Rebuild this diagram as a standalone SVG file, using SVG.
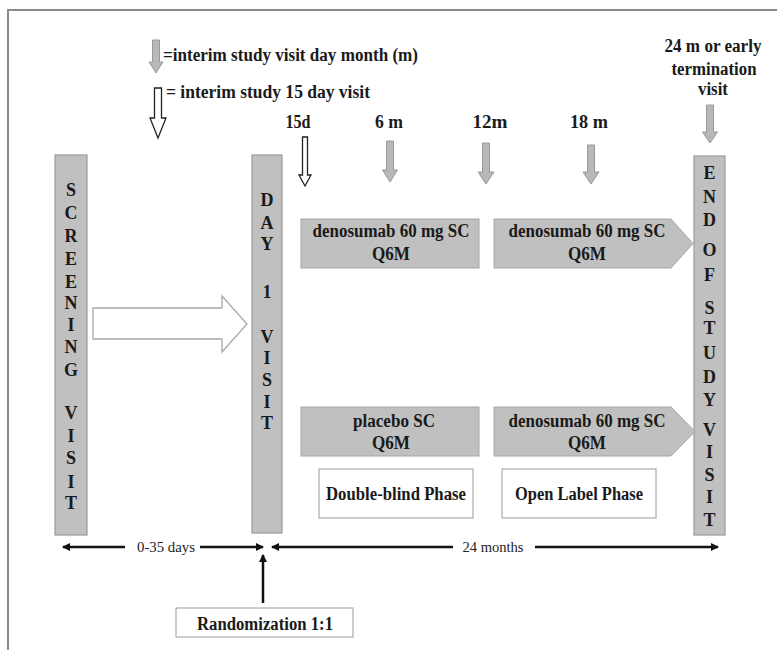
<svg xmlns="http://www.w3.org/2000/svg" width="777" height="650" viewBox="0 0 777 650">
<defs>
<style>
.t{font-family:"Liberation Serif","Times New Roman",serif;font-weight:bold;font-size:18px;fill:#1a1a1a}
.r{font-family:"Liberation Serif","Times New Roman",serif;font-size:15px;fill:#222}
.bar{fill:#c0c0c0;stroke:#9a9a9a;stroke-width:1.2}
.box{fill:#c0c0c0;stroke:#a6a6a6;stroke-width:1}
.wbox{fill:#ffffff;stroke:#9a9a9a;stroke-width:1}
.garr{fill:#b8b8b8;stroke:#999;stroke-width:1}
.harr{fill:#ffffff;stroke:#222;stroke-width:1.3}
.dim{stroke:#111;stroke-width:2.5;fill:none}
.c{text-anchor:middle}
</style>
<marker id="ah" markerWidth="8" markerHeight="8" refX="7" refY="4" orient="auto" markerUnits="userSpaceOnUse">
<path d="M0,0 L8,4 L0,8 Z" fill="#111"/>
</marker>
</defs>
<rect width="777" height="650" fill="#ffffff"/>
<rect x="8" y="10" width="800" height="700" fill="none" stroke="#8a8a8a" stroke-width="2"/>

<g id="legend">
<polygon class="garr" points="152.5,40 159.5,40 159.5,62 163,62 156,73 149,62 152.5,62"/>
<text class="t" x="163" y="61" textLength="255" lengthAdjust="spacingAndGlyphs">=interim study visit day month (m)</text>
<polygon class="harr" points="154.5,88 161.5,88 161.5,118 166,118 158,138 150,118 154.5,118"/>
<text class="t" x="166" y="98" textLength="204" lengthAdjust="spacingAndGlyphs">= interim study 15 day visit</text>
</g>

<g id="timepoints">
<text class="t c" x="298" y="128" textLength="25" lengthAdjust="spacingAndGlyphs">15d</text>
<polygon class="harr" points="302.5,137 307.5,137 307.5,175 311,175 305,186 299,175 302.5,175"/>
<text class="t c" x="389" y="128" textLength="28" lengthAdjust="spacingAndGlyphs">6 m</text>
<polygon class="garr" points="386.5,141 393.5,141 393.5,170 397.5,170 390,182 382.5,170 386.5,170"/>
<text class="t c" x="490" y="128" textLength="35" lengthAdjust="spacingAndGlyphs">12m</text>
<polygon class="garr" points="482.5,143 489.5,143 489.5,172 494,172 486,184 478,172 482.5,172"/>
<text class="t c" x="589" y="128" textLength="38" lengthAdjust="spacingAndGlyphs">18 m</text>
<polygon class="garr" points="587.5,145 594.5,145 594.5,172 599,172 591,184 583,172 587.5,172"/>
<text class="t c" x="713" y="52" textLength="97" lengthAdjust="spacingAndGlyphs">24 m or early</text>
<text class="t c" x="714" y="75" textLength="85" lengthAdjust="spacingAndGlyphs">termination</text>
<text class="t c" x="713" y="95" textLength="30" lengthAdjust="spacingAndGlyphs">visit</text>
<polygon class="garr" points="706.5,105 713.5,105 713.5,132 717.5,132 710,143 702.5,132 706.5,132"/>
</g>

<g id="screening">
<rect class="bar" x="55" y="155" width="32" height="380"/>
<text class="t c">
<tspan x="71" y="196">S</tspan><tspan x="71" y="219">C</tspan><tspan x="71" y="242">R</tspan><tspan x="71" y="265">E</tspan><tspan x="71" y="288">E</tspan><tspan x="71" y="309">N</tspan><tspan x="71" y="331">I</tspan><tspan x="71" y="353">N</tspan><tspan x="71" y="376">G</tspan><tspan x="71" y="419">V</tspan><tspan x="71" y="442">I</tspan><tspan x="71" y="464">S</tspan><tspan x="71" y="488">I</tspan><tspan x="71" y="509">T</tspan>
</text>
</g>

<g id="day1">
<rect class="bar" x="252" y="155" width="30" height="378"/>
<text class="t c">
<tspan x="267" y="206">D</tspan><tspan x="267" y="229">A</tspan><tspan x="267" y="250">Y</tspan><tspan x="267" y="298">1</tspan><tspan x="267" y="343">V</tspan><tspan x="267" y="364">I</tspan><tspan x="267" y="386">S</tspan><tspan x="267" y="408">I</tspan><tspan x="267" y="429">T</tspan>
</text>
</g>

<g id="endvisit">
<rect class="bar" x="694" y="156" width="31" height="379"/>
<text class="t c">
<tspan x="709.5" y="179">E</tspan><tspan x="709.5" y="203">N</tspan><tspan x="709.5" y="226">D</tspan><tspan x="709.5" y="256">O</tspan><tspan x="709.5" y="281">F</tspan><tspan x="709.5" y="314">S</tspan><tspan x="709.5" y="334">T</tspan><tspan x="709.5" y="359">U</tspan><tspan x="709.5" y="383">D</tspan><tspan x="709.5" y="406">Y</tspan><tspan x="709.5" y="436">V</tspan><tspan x="709.5" y="458">I</tspan><tspan x="709.5" y="481">S</tspan><tspan x="709.5" y="503">I</tspan><tspan x="709.5" y="526">T</tspan>
</text>
</g>

<g id="box-deno-db">
<rect class="box" x="301" y="219" width="178" height="49"/>
<text class="t c" x="391" y="237" textLength="157" lengthAdjust="spacingAndGlyphs">denosumab 60 mg SC</text>
<text class="t c" x="391" y="260" textLength="38" lengthAdjust="spacingAndGlyphs">Q6M</text>
</g>

<g id="box-deno-ol1">
<polygon class="box" points="494,219 671,219 693,243.5 671,268 494,268"/>
<text class="t c" x="587" y="237" textLength="157" lengthAdjust="spacingAndGlyphs">denosumab 60 mg SC</text>
<text class="t c" x="587" y="260" textLength="38" lengthAdjust="spacingAndGlyphs">Q6M</text>
</g>

<g id="box-placebo">
<rect class="box" x="301" y="407" width="178" height="49"/>
<text class="t c" x="394" y="427" textLength="82" lengthAdjust="spacingAndGlyphs">placebo SC</text>
<text class="t c" x="391" y="449" textLength="38" lengthAdjust="spacingAndGlyphs">Q6M</text>
</g>

<g id="box-deno-ol2">
<polygon class="box" points="494,407 671,407 695,431.5 671,456 494,456"/>
<text class="t c" x="587" y="427" textLength="157" lengthAdjust="spacingAndGlyphs">denosumab 60 mg SC</text>
<text class="t c" x="587" y="449" textLength="38" lengthAdjust="spacingAndGlyphs">Q6M</text>
</g>

<g id="phase-db">
<rect class="wbox" x="319" y="469" width="154" height="49"/>
<text class="t c" x="396" y="500" textLength="140" lengthAdjust="spacingAndGlyphs">Double-blind Phase</text>
</g>

<g id="phase-ol">
<rect class="wbox" x="502" y="469" width="154" height="49"/>
<text class="t c" x="579" y="500" textLength="128" lengthAdjust="spacingAndGlyphs">Open Label Phase</text>
</g>

<g id="randomization">
<rect class="wbox" x="176" y="608" width="177" height="29"/>
<text class="t c" x="265" y="630" textLength="136" lengthAdjust="spacingAndGlyphs">Randomization 1:1</text>
</g>

<g id="connectors">
<polygon points="93,308 222,308 222,296 247,324 222,352 222,339 93,339" fill="#ffffff" stroke="#a8a8a8" stroke-width="1.3"/>
<line class="dim" x1="125" y1="547" x2="63" y2="547" marker-end="url(#ah)"/>
<text class="r c" x="166" y="552" textLength="58" lengthAdjust="spacingAndGlyphs">0-35 days</text>
<line class="dim" x1="200" y1="547" x2="263" y2="547" marker-end="url(#ah)"/>
<line class="dim" x1="453" y1="547" x2="272" y2="547" marker-end="url(#ah)"/>
<text class="r c" x="493" y="552" textLength="61" lengthAdjust="spacingAndGlyphs">24 months</text>
<line class="dim" x1="535" y1="547" x2="718" y2="547" marker-end="url(#ah)"/>
<line class="dim" x1="263" y1="603" x2="263" y2="555" marker-end="url(#ah)"/>
</g>
</svg>
